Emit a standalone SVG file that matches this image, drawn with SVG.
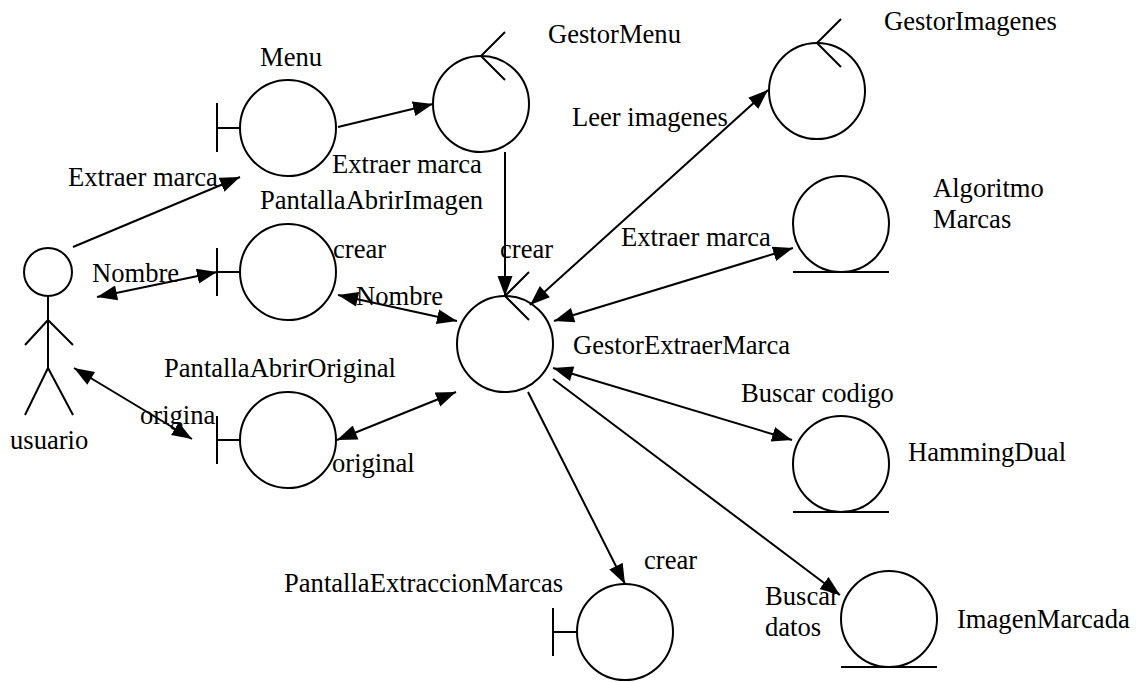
<svg xmlns="http://www.w3.org/2000/svg" width="1141" height="682" viewBox="0 0 1141 682">
  <style>
    .shape { fill: none; stroke: #000; stroke-width: 2; }
    .conn { fill: none; stroke: #000; stroke-width: 2; }
    .lbl { font-family: "Liberation Serif", "Times New Roman", serif; font-size: 26.6px; fill: #000; }
  </style>
  <defs>
    <marker id="arrowEnd" markerUnits="userSpaceOnUse" markerWidth="22" markerHeight="16" refX="20" refY="7.5" orient="auto">
      <path d="M0,0 L20,7.5 L0,15 Z" fill="#000"/>
    </marker>
    <marker id="arrowStart" markerUnits="userSpaceOnUse" markerWidth="22" markerHeight="16" refX="0" refY="7.5" orient="auto">
      <path d="M20,0 L0,7.5 L20,15 Z" fill="#000"/>
    </marker>
  </defs>
  <rect width="1141" height="682" fill="#fff"/>

  <!-- actor -->
  <g id="usuario">
    <circle class="shape" cx="48" cy="272" r="24"/>
    <line class="shape" x1="48" y1="296" x2="48" y2="368"/>
    <polyline class="shape" points="25,345 48,320 73,345"/>
    <polyline class="shape" points="25,415 48,368 73,415"/>
    <text class="lbl" x="10" y="449">usuario</text>
  </g>

  <!-- boundary objects -->
  <g id="Menu">
    <circle class="shape" cx="288" cy="128" r="48"/>
    <line class="shape" x1="217" y1="103" x2="217" y2="152"/>
    <line class="shape" x1="217" y1="128" x2="240" y2="128"/>
    <text class="lbl" x="260" y="66">Menu</text>
  </g>
  <g id="PantallaAbrirImagen">
    <circle class="shape" cx="288" cy="272" r="48"/>
    <line class="shape" x1="217" y1="248" x2="217" y2="296"/>
    <line class="shape" x1="217" y1="272" x2="240" y2="272"/>
    <text class="lbl" x="260" y="209">PantallaAbrirImagen</text>
  </g>
  <g id="PantallaAbrirOriginal">
    <circle class="shape" cx="288" cy="440" r="48"/>
    <line class="shape" x1="217" y1="416" x2="217" y2="464"/>
    <line class="shape" x1="217" y1="440" x2="240" y2="440"/>
    <text class="lbl" x="164" y="377">PantallaAbrirOriginal</text>
  </g>
  <g id="PantallaExtraccionMarcas">
    <circle class="shape" cx="625" cy="632" r="48"/>
    <line class="shape" x1="553" y1="608" x2="553" y2="656"/>
    <line class="shape" x1="553" y1="632" x2="577" y2="632"/>
    <text class="lbl" x="284" y="592">PantallaExtraccionMarcas</text>
  </g>

  <!-- control objects -->
  <g id="GestorMenu">
    <circle class="shape" cx="481" cy="104" r="48"/>
    <polyline class="shape" points="505,32 481,56 505,80"/>
    <text class="lbl" x="548" y="43">GestorMenu</text>
  </g>
  <g id="GestorImagenes">
    <circle class="shape" cx="817" cy="91" r="48"/>
    <polyline class="shape" points="841,19 817,43 841,67"/>
    <text class="lbl" x="884" y="30">GestorImagenes</text>
  </g>
  <g id="GestorExtraerMarca">
    <circle class="shape" cx="505" cy="344" r="48"/>
    <polyline class="shape" points="529,272 505,296 529,320"/>
    <text class="lbl" x="573" y="354">GestorExtraerMarca</text>
  </g>

  <!-- entity objects -->
  <g id="AlgoritmoMarcas">
    <circle class="shape" cx="841" cy="224" r="48"/>
    <line class="shape" x1="793" y1="272" x2="889" y2="272"/>
    <text class="lbl" x="933" y="197">Algoritmo</text>
    <text class="lbl" x="933" y="228">Marcas</text>
  </g>
  <g id="HammingDual">
    <circle class="shape" cx="841" cy="464" r="48"/>
    <line class="shape" x1="793" y1="512" x2="889" y2="512"/>
    <text class="lbl" x="908" y="461">HammingDual</text>
  </g>
  <g id="ImagenMarcada">
    <circle class="shape" cx="889" cy="619" r="48"/>
    <line class="shape" x1="841" y1="667" x2="937" y2="667"/>
    <text class="lbl" x="957" y="628">ImagenMarcada</text>
  </g>

  <!-- links and messages -->
  <g id="connectors">
    <line class="conn" x1="73" y1="247" x2="240" y2="177" marker-end="url(#arrowEnd)"/>
    <line class="conn" x1="338" y1="127" x2="433" y2="104" marker-end="url(#arrowEnd)"/>
    <line class="conn" x1="505" y1="152" x2="505" y2="296" marker-end="url(#arrowEnd)"/>
    <line class="conn" x1="97" y1="297" x2="217" y2="272" marker-start="url(#arrowStart)" marker-end="url(#arrowEnd)"/>
    <line class="conn" x1="338" y1="295" x2="457" y2="321" marker-start="url(#arrowStart)" marker-end="url(#arrowEnd)"/>
    <line class="conn" x1="530" y1="305" x2="768" y2="90" marker-start="url(#arrowStart)" marker-end="url(#arrowEnd)"/>
    <line class="conn" x1="554" y1="321" x2="793" y2="248" marker-start="url(#arrowStart)" marker-end="url(#arrowEnd)"/>
    <line class="conn" x1="74" y1="368" x2="192" y2="439" marker-start="url(#arrowStart)" marker-end="url(#arrowEnd)"/>
    <line class="conn" x1="337" y1="440" x2="456" y2="392" marker-start="url(#arrowStart)" marker-end="url(#arrowEnd)"/>
    <line class="conn" x1="553" y1="368" x2="792" y2="440" marker-start="url(#arrowStart)" marker-end="url(#arrowEnd)"/>
    <line class="conn" x1="528" y1="392" x2="625" y2="584" marker-end="url(#arrowEnd)"/>
    <line class="conn" x1="553" y1="379" x2="840" y2="595" marker-end="url(#arrowEnd)"/>

    <text class="lbl" x="68" y="186">Extraer marca</text>
    <text class="lbl" x="332" y="173">Extraer marca</text>
    <text class="lbl" x="572" y="126">Leer imagenes</text>
    <text class="lbl" x="333" y="258">crear</text>
    <text class="lbl" x="500" y="258">crear</text>
    <text class="lbl" x="92" y="282">Nombre</text>
    <text class="lbl" x="356" y="305">Nombre</text>
    <text class="lbl" x="621" y="246">Extraer marca</text>
    <text class="lbl" x="140" y="424">origina</text>
    <text class="lbl" x="332" y="472">original</text>
    <text class="lbl" x="741" y="402">Buscar codigo</text>
    <text class="lbl" x="644" y="569">crear</text>
    <text class="lbl" x="765" y="605">Buscar</text>
    <text class="lbl" x="765" y="636">datos</text>
  </g>
</svg>
